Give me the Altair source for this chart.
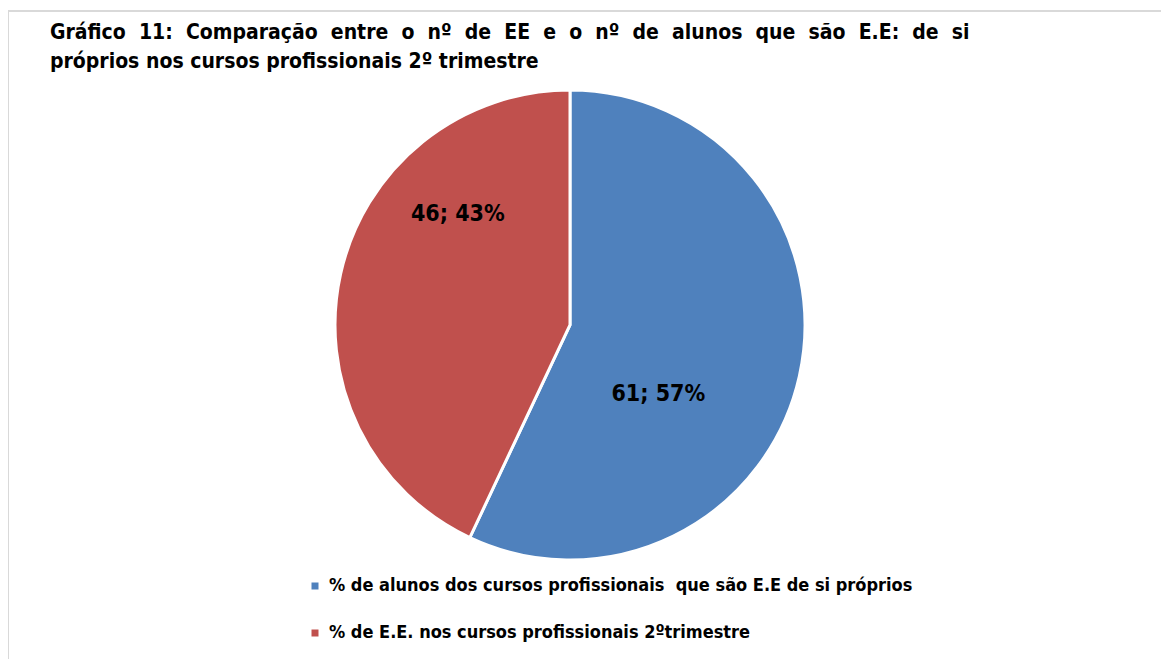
import altair as alt
import pandas as pd

categories = [
    "% de alunos dos cursos profissionais \u00a0que são E.E de si próprios",
    "% de E.E. nos cursos profissionais 2ºtrimestre",
]
values = [61, 46]
percent_labels = ["57%", "43%"]
colors = ["#4F81BD", "#C0504D"]
title_line1 = "Gráfico 11: Comparação entre o nº de EE e o nº de alunos que são E.E: de si"
title_line2 = "próprios nos cursos profissionais 2º trimestre"

df = pd.DataFrame({
    "cat": categories,
    "value": values,
    "order": [1, 2],
    "label": [f"{v}; {p}" for v, p in zip(values, percent_labels)],
})

FONT = "DejaVu Sans Condensed"
W, H = 1124, 474

base = alt.Chart(df)

pie = base.mark_arc(stroke="white", strokeWidth=3, outerRadius=235).encode(
    theta=alt.Theta("value:Q", stack=True),
    order=alt.Order("order:Q"),
    color=alt.Color(
        "cat:N",
        scale=alt.Scale(domain=categories, range=colors),
        sort=categories,
        legend=alt.Legend(
            title=None,
            orient="none",
            legendX=298,
            legendY=489,
            direction="vertical",
            symbolType="square",
            symbolSize=49,
            symbolStrokeWidth=0,
            labelFont=FONT,
            labelFontSize=18,
            labelFontWeight="bold",
            labelColor="black",
            labelLimit=800,
            labelOffset=5,
            rowPadding=29,
            padding=0,
        ),
    ),
)

lbl_blue = base.mark_text(radius=111, dx=-20, dy=45, font=FONT, fontSize=23,
                          fontWeight="bold", color="black").encode(
    theta=alt.Theta("value:Q", stack=True),
    order=alt.Order("order:Q"),
    text="label:N",
    opacity=alt.condition(alt.datum.order == 1, alt.value(1), alt.value(0)),
)
lbl_red = base.mark_text(radius=158, dx=42, dy=-76, font=FONT, fontSize=23,
                         fontWeight="bold", color="black").encode(
    theta=alt.Theta("value:Q", stack=True),
    order=alt.Order("order:Q"),
    text="label:N",
    opacity=alt.condition(alt.datum.order == 2, alt.value(1), alt.value(0)),
)

frame_data = alt.Data(values=[{"a": 1}])
top_rule = alt.Chart(frame_data).mark_rule(color="#d9d9d9", strokeWidth=2).encode(
    x=alt.value(0), x2=alt.value(1160), y=alt.value(-77)
)
left_rule = alt.Chart(frame_data).mark_rule(color="#d9d9d9", strokeWidth=2).encode(
    x=alt.value(0), y=alt.value(-78), y2=alt.value(600)
)

justified1 = title_line1.replace(" ", " \u00a0")
title1 = alt.Chart(frame_data).mark_text(
    text=justified1, font=FONT, fontSize=21, fontWeight="bold", color="black",
    align="left", baseline="alphabetic",
).encode(x=alt.value(42), y=alt.value(-49))
title2 = alt.Chart(frame_data).mark_text(
    text=title_line2, font=FONT, fontSize=21, fontWeight="bold", color="black",
    align="left", baseline="alphabetic",
).encode(x=alt.value(42), y=alt.value(-20))

chart = alt.layer(top_rule, left_rule, title1, title2, pie, lbl_blue, lbl_red).properties(
    width=W,
    height=H,
    padding={"left": 0, "top": 80, "right": 29, "bottom": 97},
    autosize=alt.AutoSizeParams(type="none"),
).configure_view(stroke=None)

chart.save("out.html", embed_options={"renderer": "svg", "actions": False})
